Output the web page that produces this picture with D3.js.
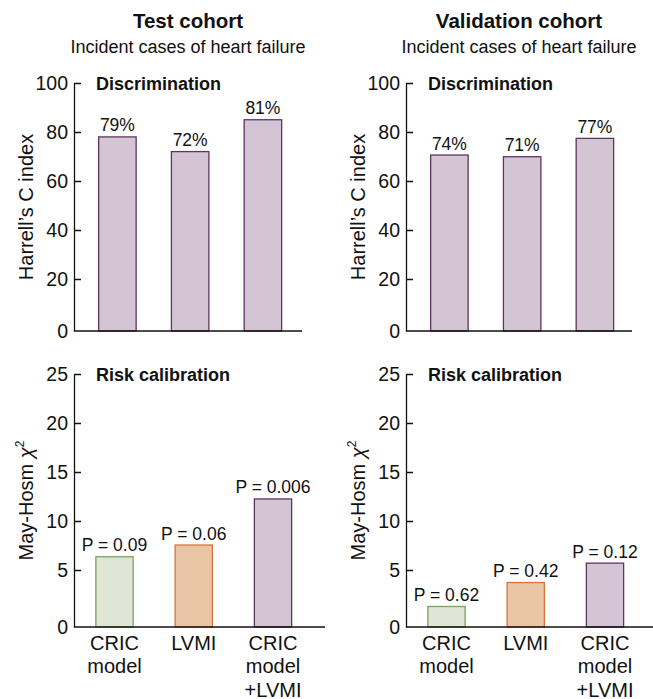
<html>
<head>
<script src="https://cdn.jsdelivr.net/npm/d3@7"></script>
<style>
  body { margin: 0; background: #fff; }
  text { font-family: "Liberation Sans", Arial, sans-serif; fill: #111; }
</style>
</head>
<body>
<script>
// data
const cohorts = ["Test cohort", "Validation cohort"]
const subtitle = "Incident cases of heart failure"
const models = ["CRIC model", "LVMI", "CRIC model +LVMI"]
const modelLines = [["CRIC", "model"], ["LVMI"], ["CRIC", "model", "+LVMI"]]

// Harrell's C index (bar heights as drawn) and printed labels
const cIndexTest = [78, 72, 85]
const cIndexVal = [70.6, 69.9, 77.4]
const cLabelsTest = ["79%", "72%", "81%"]
const cLabelsVal = ["74%", "71%", "77%"]

// May-Hosmer chi-square and P values
const chiTest = [6.35, 7.55, 12.25]
const chiVal = [1.8, 3.9, 5.7]
const pTest = ["P = 0.09", "P = 0.06", "P = 0.006"]
const pVal = ["P = 0.62", "P = 0.42", "P = 0.12"]

const cTicks = [0, 20, 40, 60, 80, 100]
const chiTicks = [0, 5, 10, 15, 20, 25]

// colours
const fills = ["#dfe6d5", "#ebc6a6", "#d4c5d5"]
const strokes = ["#78a262", "#d5733f", "#5e3460"]
const purpleFill = "#d4c5d5", purpleStroke = "#5e3460"

const W = 653, H = 699
const svg = d3.select("body").append("svg").attr("width", W).attr("height", H)

const axisXs = [74, 406]
const titleX = [188, 519]

// headers
cohorts.forEach((c, i) => {
  svg.append("text").attr("x", titleX[i]).attr("y", 28)
     .attr("text-anchor", "middle").attr("font-size", 20.5).attr("font-weight", "bold").text(c)
  svg.append("text").attr("x", titleX[i]).attr("y", 53)
     .attr("text-anchor", "middle").attr("font-size", 18).text(subtitle)
})

// top panels: discrimination
const yTop = d3.scaleLinear().domain([0, 20, 100]).range([331, 279, 83])
const topEnds = [302, 632]
const topData = [cIndexTest, cIndexVal]
const topLabels = [cLabelsTest, cLabelsVal]

// bottom panels: calibration
const yBot = d3.scaleLinear().domain([0, 5, 25]).range([627, 570, 374])
const botEnds = [325, 653]
const botData = [chiTest, chiVal]
const botLabels = [pTest, pVal]

function drawPanel(ax, y, ticks, xEnd, xRange, pi, po, vals, labels, colorBars, heading, ytitle, xlabels) {
  const g = svg.append("g")
  const x = d3.scaleBand().domain(models).range(xRange).paddingInner(pi).paddingOuter(po)

  // bars
  g.selectAll("rect.bar").data(vals).enter().append("rect")
    .attr("x", (d, i) => x(models[i]))
    .attr("y", d => y(d))
    .attr("width", x.bandwidth())
    .attr("height", d => y.range()[0] - y(d))
    .attr("fill", (d, i) => colorBars ? fills[i] : purpleFill)
    .attr("stroke", (d, i) => colorBars ? strokes[i] : purpleStroke)
    .attr("stroke-width", 1.3)

  // value labels
  g.selectAll("text.lbl").data(vals).enter().append("text")
    .attr("x", (d, i) => x(models[i]) + x.bandwidth() / 2)
    .attr("y", d => y(d) - 5.5)
    .attr("text-anchor", "middle").attr("font-size", 17.5)
    .text((d, i) => labels[i])

  // y axis, ticks pointing inward
  const yAxis = d3.axisLeft(y).tickValues(ticks).tickSize(-7).tickSizeOuter(0).tickPadding(6)
  const ga = g.append("g").attr("transform", "translate(" + ax + ",0)").call(yAxis)
  ga.select(".domain").attr("stroke", "#111").attr("stroke-width", 1.3)
  ga.selectAll(".tick line").attr("stroke", "#111").attr("stroke-width", 1.5)
  ga.selectAll(".tick text").attr("font-size", 19.5).attr("font-family", "Liberation Sans, Arial, sans-serif").attr("fill", "#111")
  ga.selectAll(".tick").filter(d => d === 0).select("line").remove()

  // x baseline
  const base = y.range()[0]
  g.append("line").attr("x1", ax).attr("x2", xEnd).attr("y1", base).attr("y2", base)
    .attr("stroke", "#111").attr("stroke-width", 1.3)

  // heading
  g.append("text").attr("x", ax + 22).attr("y", y(ticks[ticks.length - 1]) + 7)
    .attr("font-size", 18).attr("font-weight", "bold").text(heading)

  // y title
  const yt = g.append("text")
    .attr("transform", "translate(" + (ax - 41) + "," + ((y.range()[0] + y.range()[y.range().length - 1]) / 2) + ") rotate(-90)")
    .attr("text-anchor", "middle").attr("font-size", 20)
  ytitle.forEach(part => {
    const t = yt.append("tspan").text(part.t)
    if (part.sup) t.attr("font-size", 12).attr("dy", -9)
    if (part.it) t.attr("font-style", "italic")
  })

  // x labels
  if (xlabels) {
    const xa = g.append("g").attr("transform", "translate(0," + base + ")")
      .call(d3.axisBottom(x).tickSize(0).tickFormat(""))
    xa.select(".domain").remove()
    xa.selectAll(".tick").each(function(d, i) {
      const t = d3.select(this).append("text").attr("text-anchor", "middle").attr("font-size", 20)
        .attr("y", 23)
      modelLines[i].forEach((ln, k) => {
        t.append("tspan").attr("x", 0).attr("dy", k === 0 ? 0 : 23.3).text(ln)
      })
    })
  }
}

for (let i = 0; i < 2; i++) {
  const ax = axisXs[i]
  drawPanel(ax, yTop, cTicks, topEnds[i], [ax, ax + 232.3], 0.485, 0.339,
    topData[i], topLabels[i], false, "Discrimination",
    [{t: "Harrell\u2019s C index"}], false)
  drawPanel(ax, yBot, chiTicks, botEnds[i], [ax, ax + 239.5], 0.53, 0.276,
    botData[i], botLabels[i], true, "Risk calibration",
    [{t: "May-Hosm "}, {t: "\u03c7", it: true}, {t: "2", sup: true}], true)
}
</script>
</body>
</html>
